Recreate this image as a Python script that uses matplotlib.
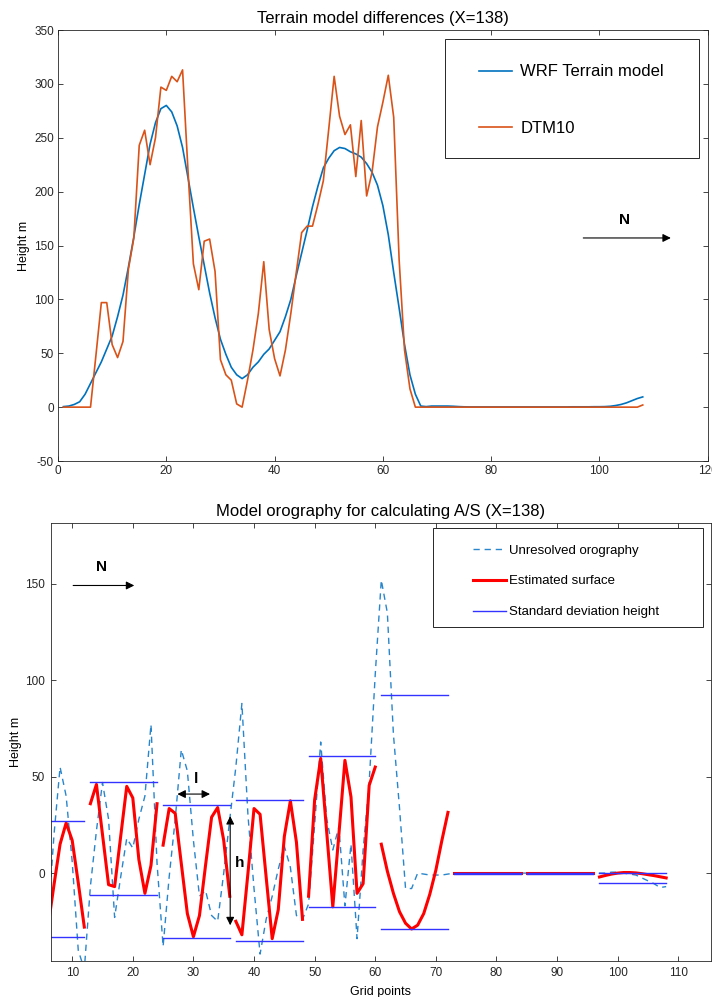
import matplotlib
matplotlib.use("Agg")
import matplotlib.pyplot as plt
from matplotlib.patches import Rectangle
import numpy as np

plt.rcParams['font.family'] = ['Liberation Sans', 'DejaVu Sans']
plt.rcParams['axes.unicode_minus'] = False

# ---- top panel: terrain models along the section ----
grid_x = np.arange(1, 109)

wrf_terrain = [
    0.5, 1, 2.5, 5, 12, 22, 32, 42, 54, 66, 84, 104,
    130, 158, 188, 216, 244, 264, 277, 280, 274, 261, 241, 213,
    185, 158, 132, 106, 83, 63, 49, 37, 30, 26.5, 30, 37,
    42, 49, 54, 62, 70, 84, 100, 122, 143, 164, 186, 205,
    222, 231, 238, 241, 240, 237, 235, 232, 226, 218, 206, 187,
    160, 125, 92, 58, 30, 12, 1, 0.5, 1, 1, 1, 1,
    0.8, 0.5, 0.3, 0.2, 0.2, 0.2, 0.2, 0.2, 0.2, 0.2, 0.2, 0.2,
    0.2, 0.2, 0.2, 0.2, 0.2, 0.2, 0.2, 0.2, 0.2, 0.2, 0.3, 0.3,
    0.3, 0.3, 0.4, 0.4, 0.5, 0.8, 1.5, 2.5, 4, 6, 8, 9.5,
]

dtm10 = [
    0, 0, 0, 0, 0, 0, 48, 97, 97, 58, 46, 61,
    128, 157, 243, 257, 225, 250, 297, 294, 307, 302, 313, 220,
    133, 109, 154, 156, 126, 44, 30, 25, 3, 0, 25, 53,
    87, 135, 72, 45, 29, 53, 87, 125, 162, 168, 168, 188,
    210, 258, 307, 270, 253, 262, 214, 266, 196, 218, 260, 283,
    308, 269, 137, 53, 17, 0, 0, 0, 0, 0, 0, 0,
    0, 0, 0, 0, 0, 0, 0, 0, 0, 0, 0, 0,
    0, 0, 0, 0, 0, 0, 0, 0, 0, 0, 0, 0,
    0, 0, 0, 0, 0, 0, 0, 0, 0, 0, 0, 2,
]

# ---- bottom panel: unresolved orography ----
orog_x = np.arange(6, 109)
unresolved = [
    -25, 20, 55, 40, 6, -40, -50,
    -7, 22, 47, 28, -23, -2, 18, 13, 28, 40, 77, 5,
    -38, -2, 28, 64, 53, 17, -12, -9, -22, -25, 0, 28,
    55, 88, 30, -8, -42, -24, -12, 2, 14, 3, -22, -24,
    -16, 25, 68, 28, 12, 24, -17, 15, -34, 12, 47, 103,
    152, 135, 72, 34, -8, -8, 0, -0.5, -1, -1, -1, -0.5,
    0, 0, 0, 0, 0, 0, 0, 0, 0, 0, 0, 0,
    0, 0, 0, 0, 0, 0, 0, 0, 0, 0, 0, 0,
    0, 0, 0.5, 0.5, 0, -0.5, -1, -2.5, -4, -5.5, -7.5, -7,
]

block_start = [1, 13, 25, 37, 49, 61, 73, 85, 97]
block_end = [12, 24, 36, 48, 60, 72, 84, 96, 108]
std_high = [27, 47.3, 35.2, 37.8, 60.8, 92.2, 0.3, 0.3, 0.3]
std_low = [-33, -11.2, -33.5, -35.2, -17.8, -29, -0.5, -0.3, -5]

surface_start = [6, 13, 25, 37, 49, 61, 73, 85, 97]
est_surface = [
    [-28, -6, 15, 26, 17, -5, -28],
    [36, 46, 20, -6, -7, 19, 45, 39, 7, -10.5, 4, 36],
    [14.5, 33.5, 31, 5, -21, -33, -22, 4, 29, 34, 17, -12],
    [-25, -32, 0, 33.5, 30.5, -2, -34, -19, 19, 37.5, 16, -24],
    [-12, 38, 59.5, 21, -17.5, 20, 58.5, 39.5, -10.5, -5.5, 45.5, 55],
    [15, 1, -10.5, -20, -26, -29, -27, -21, -11, 1.5, 17, 31.5],
    [0, 0, 0, 0, 0, 0, 0, 0, 0, 0, 0, 0],
    [0, 0, 0, 0, 0, 0, 0, 0, 0, 0, 0, 0],
    [-2, -1.2, -0.5, 0, 0.3, 0.3, 0.1, -0.3, -0.8, -1.3, -1.9, -2.5],
]

axis_col = (0.15, 0.15, 0.15)
blue = '#0072BD'
orange = '#D95319'


def style_axes(ax, pad=3):
    for s in ax.spines.values():
        s.set_color(axis_col)
        s.set_linewidth(0.6)
    ax.tick_params(direction='in', top=True, right=True, length=3.5,
                   width=0.6, colors=axis_col, labelsize=8.5, pad=pad)


def legend_box(ax, x0, y0, x1, y1):
    # white framed box behind a frameless legend, in axes fractions
    ax.add_patch(Rectangle((x0, y0), x1 - x0, y1 - y0, transform=ax.transAxes,
                           facecolor='white', edgecolor=axis_col, lw=0.7,
                           zorder=4.5))


fig = plt.figure(figsize=(7.12, 9.97), dpi=100)

ax1 = fig.add_axes([0.0815, 0.5376, 0.9125, 0.4323])
ax1.plot(grid_x, wrf_terrain, color=blue, lw=1.2, label='WRF Terrain model')
ax1.plot(grid_x, dtm10, color=orange, lw=1.2, label='DTM10')
ax1.set_xlim(0, 120)
ax1.set_ylim(-50, 350)
ax1.set_xticks(range(0, 121, 20))
ax1.set_yticks(range(-50, 351, 50))
style_axes(ax1)
ax1.set_title('Terrain model differences (X=138)', fontsize=12, pad=5)
ax1.set_ylabel('Height m', fontsize=9, labelpad=3)
legend_box(ax1, 0.5954, 0.7030, 0.9862, 0.9791)
ax1.legend(loc='upper left', bbox_to_anchor=(0.6477, 0.920), frameon=False,
           borderpad=0, borderaxespad=0, fontsize=12, labelspacing=2.47,
           handlelength=2.0, handletextpad=0.48)
ax1.annotate('', xy=(113.7, 157), xytext=(96.5, 157),
             arrowprops=dict(arrowstyle='-|>', color='black', lw=0.8,
                             mutation_scale=12))
ax1.text(104.7, 174, 'N', fontsize=11, fontweight='bold', ha='center', va='center')

ax2 = fig.add_axes([0.0716, 0.0361, 0.927, 0.4393])
ax2.plot(orog_x, unresolved, color='#2a86cc', lw=1.0, dashes=(4.5, 3.5),
         label='Unresolved orography')
for i in range(len(est_surface)):
    xs = np.arange(surface_start[i], surface_start[i] + len(est_surface[i]))
    ax2.plot(xs, est_surface[i], color='red', lw=2.2,
             label='Estimated surface' if i == 0 else None)
for i in range(len(block_start)):
    ax2.plot([block_start[i], block_end[i]], [std_high[i], std_high[i]],
             color='#3333ff', lw=1.0,
             label='Standard deviation height' if i == 0 else None)
    ax2.plot([block_start[i], block_end[i]], [std_low[i], std_low[i]],
             color='#3333ff', lw=1.0)
ax2.set_xlim(6.5, 115.4)
ax2.set_ylim(-45.6, 181.6)
ax2.set_xticks(range(10, 111, 10))
ax2.set_yticks([0, 50, 100, 150])
style_axes(ax2, pad=4.5)
ax2.set_title('Model orography for calculating A/S (X=138)', fontsize=12, pad=5)
ax2.set_ylabel('Height m', fontsize=9, labelpad=2)
ax2.set_xlabel('Grid points', fontsize=9, labelpad=5)
legend_box(ax2, 0.5788, 0.7626, 0.9879, 0.9886)
ax2.legend(loc='upper left', bbox_to_anchor=(0.6394, 0.9515), frameon=False,
           borderpad=0, borderaxespad=0, fontsize=9.5, labelspacing=1.42,
           handlelength=2.5, handletextpad=0.23)

ax2.annotate('', xy=(20.7, 149.2), xytext=(9.7, 149.2),
             arrowprops=dict(arrowstyle='-|>', color='black', lw=0.8,
                             mutation_scale=12))
ax2.text(14.8, 159, 'N', fontsize=11, fontweight='bold', ha='center', va='center')
ax2.annotate('', xy=(33.2, 41), xytext=(26.9, 41),
             arrowprops=dict(arrowstyle='<|-|>', color='black', lw=0.8,
                             mutation_scale=12))
ax2.text(30.4, 49, 'l', fontsize=11, fontweight='bold', ha='center', va='center')
ax2.annotate('', xy=(36.07, -28.5), xytext=(36.07, 31),
             arrowprops=dict(arrowstyle='<|-|>', color='black', lw=0.8,
                             mutation_scale=12))
ax2.text(37.7, 5, 'h', fontsize=11, fontweight='bold', ha='center', va='center')

fig.savefig('out.png', dpi=100)
